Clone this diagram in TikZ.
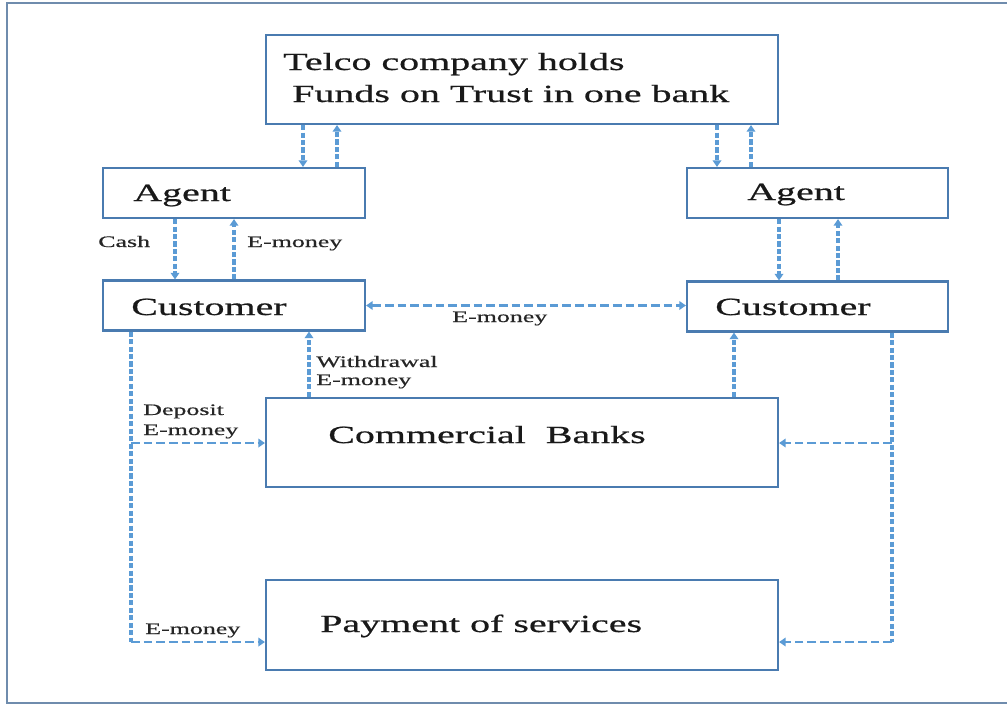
\documentclass[tikz,border=0pt]{standalone}
\usepackage{fontspec}
\setmainfont{Liberation Serif}[FakeStretch=1.62, FakeBold=0.6]
\usetikzlibrary{arrows.meta}
\definecolor{arrowblue}{HTML}{5B9BD5}
\definecolor{boxblue}{HTML}{4A7BB0}
\definecolor{framegray}{HTML}{6F8CAD}
\begin{document}
\begin{tikzpicture}[x=0.75pt,y=-0.75pt,
  box/.style={draw=boxblue, line width=1.6pt, rectangle, inner sep=0pt, fill=white},
  big/.style={anchor=base west, inner sep=0pt, font=\fontsize{18.5}{24}\selectfont, text=black!90},
  lab/.style={anchor=base west, inner sep=0pt, font=\fontsize{12}{14}\selectfont, text=black!85},
  vdash/.style={draw=arrowblue, line width=2.6pt, dash pattern=on 3.8pt off 1.8pt},
  hdash/.style={draw=arrowblue, line width=2.2pt, dash pattern=on 6.5pt off 3pt},
  tip/.style={-{Triangle[length=5pt,width=6.5pt]}},
  tips/.style={{Triangle[length=5pt,width=6.5pt]}-{Triangle[length=5pt,width=6.5pt]}},
]
\useasboundingbox (0,0) rectangle (1007,704);
\draw[framegray, line width=1.6pt] (7,3) rectangle (1020,703);

% boxes
\node[box, minimum width=512*0.75pt, minimum height=89*0.75pt] (telco) at (522,79.5) {};
\node[box, minimum width=262*0.75pt, minimum height=50*0.75pt] (agentL) at (234,193) {};
\node[box, minimum width=262*0.75pt, minimum height=50*0.75pt] (custL) at (234,305.5) {};
\node[box, minimum width=261*0.75pt, minimum height=50*0.75pt] (agentR) at (817.5,193) {};
\node[box, minimum width=261*0.75pt, minimum height=50*0.75pt] (custR) at (817.5,306.5) {};
\node[box, minimum width=512*0.75pt, minimum height=89*0.75pt] (banks) at (522,442.5) {};
\node[box, minimum width=512*0.75pt, minimum height=90*0.75pt] (pay) at (522,625) {};

% box texts
\node[big] (t1) at (283,70) {Telco company holds};
\node[big] (t2) at (292,102) {Funds on Trust in one bank};
\node[big] (tAL) at (133,201) {Agent};
\node[big] (tCL) at (131,315) {Customer};
\node[big] (tAR) at (747,200) {Agent};
\node[big] (tCR) at (715,315) {Customer};
\node[big] (tB) at (328,443) {Commercial\ \ Banks};
\node[big] (tP) at (320,632) {Payment of services};

% labels
\node[lab] (lCash) at (98,247) {Cash};
\node[lab] (lEm1) at (247,247) {E-money};
\node[lab] (lEm2) at (452,322) {E-money};
\node[lab] (lW1) at (316,367) {Withdrawal};
\node[lab] (lW2) at (316,385) {E-money};
\node[lab] (lD1) at (143,415) {Deposit};
\node[lab] (lD2) at (143,435) {E-money};
\node[lab] (lEm3) at (145,634) {E-money};

% helper coordinates
\coordinate (x1) at (303,0);
\coordinate (x2) at (337,0);
\coordinate (x3) at (175,0);
\coordinate (x4) at (234,0);
\coordinate (x5) at (717,0);
\coordinate (x6) at (751,0);
\coordinate (x7) at (779,0);
\coordinate (x8) at (838,0);
\coordinate (x9) at (309,0);
\coordinate (x10) at (734,0);
\coordinate (xl) at (131,0);
\coordinate (xr) at (892,0);
\coordinate (yb) at (0,443);
\coordinate (yp) at (0,642);

% telco <-> agents
\draw[vdash, tip] (telco.south -| x1) -- (agentL.north -| x1);
\draw[vdash, tip] (agentL.north -| x2) -- (telco.south -| x2);
\draw[vdash, tip] (telco.south -| x5) -- (agentR.north -| x5);
\draw[vdash, tip] (agentR.north -| x6) -- (telco.south -| x6);

% agents <-> customers
\draw[vdash, tip] (agentL.south -| x3) -- (custL.north -| x3);
\draw[vdash, tip] (custL.north -| x4) -- (agentL.south -| x4);
\draw[vdash, tip] (agentR.south -| x7) -- (custR.north -| x7);
\draw[vdash, tip] (custR.north -| x8) -- (agentR.south -| x8);

% customer <-> customer
\draw[hdash, tips] (custL.east) -- (custR.west |- custL.east);

% banks -> customers
\draw[vdash, tip] (banks.north -| x9) -- (custL.south -| x9);
\draw[vdash, tip] (banks.north -| x10) -- (custR.south -| x10);

% left trunk
\draw[vdash] (custL.south -| xl) -- (xl |- yp);
\draw[hdash, tip] (xl |- yb) -- (banks.west |- yb);
\draw[hdash, tip] (xl |- yp) -- (pay.west |- yp);

% right trunk
\draw[vdash] (custR.south -| xr) -- (xr |- yp);
\draw[hdash, tip] (xr |- yb) -- (banks.east |- yb);
\draw[hdash, tip] (xr |- yp) -- (pay.east |- yp);
\end{tikzpicture}
\end{document}
